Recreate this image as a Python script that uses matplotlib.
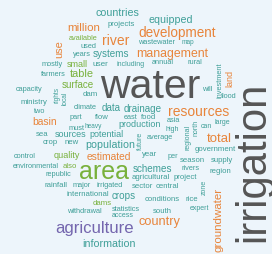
import matplotlib.pyplot as plt

# word frequencies (relative)
WORDS = [
    "water", "irrigation", "area", "agriculture", "development", "resources",
    "river", "total", "country", "management", "million", "groundwater",
    "estimated", "countries", "equipped", "information", "population", "table",
    "use", "basin", "surface", "systems", "quality", "land", "schemes", "crops",
    "data", "drainage", "production", "potential", "sources", "small",
    "projects", "available", "used", "years", "wastewater", "map", "annual",
    "rural", "mostly", "user", "including", "farmers", "capacity", "ministry",
    "two", "dam", "climate", "part", "flow", "east", "food", "must", "heavy",
    "sea", "crop", "new", "control", "environmental", "also", "republic",
    "rainfall", "major", "irrigated", "international", "dams", "withdrawal",
    "statistics", "access", "south", "conditions", "rice", "expert", "sector",
    "central", "agricultural", "project", "rivers", "region", "season",
    "supply", "government", "year", "per", "average", "high", "asia", "can",
    "large", "will", "flood", "investment", "regional", "north", "future",
    "zone", "rights", "local",
]
FREQS = [
    100, 102, 61, 41, 33, 34,
    34, 32, 31, 30, 28, 28,
    25, 26, 26, 26, 26, 27,
    27, 25, 24, 24, 22, 22, 24, 24,
    24, 24, 22, 22, 22, 22,
    19, 18, 18, 18, 18, 16, 18,
    18, 18, 20, 17, 18, 18, 19,
    18, 19, 18, 18, 19, 18, 19, 18, 16,
    19, 19, 19, 18, 18, 19, 18,
    19, 18, 18, 19, 19, 18,
    18, 17, 19, 19, 19, 17, 19,
    19, 19, 19, 18, 19, 19,
    19, 19, 19, 18, 18, 17, 18, 17,
    17, 18, 18, 18, 17, 17, 17,
    17, 16, 16,
]
# colour group of each word
GROUPS = [
    "gray", "gray", "green", "purple", "orange", "orange",
    "orange", "orange", "orange", "orange", "orange", "orange",
    "orange", "teal", "teal", "teal", "teal", "green",
    "orange", "orange", "green", "teal", "green", "orange", "teal", "teal",
    "teal", "teal", "teal", "teal", "teal", "green",
    "teal", "green", "teal", "teal", "teal", "teal", "teal",
    "teal", "teal", "teal", "teal", "teal", "teal", "teal",
    "teal", "teal", "teal", "teal", "teal", "teal", "teal", "teal", "teal",
    "teal", "teal", "teal", "teal", "teal", "green", "teal",
    "teal", "teal", "teal", "teal", "green", "teal",
    "teal", "teal", "teal", "teal", "teal", "teal", "teal",
    "teal", "teal", "teal", "teal", "teal", "teal",
    "teal", "teal", "teal", "teal", "teal", "teal", "teal", "teal",
    "teal", "teal", "teal", "teal", "teal", "teal", "teal",
    "teal", "teal", "teal",
]

COLORS = {
    "gray": "#555555",
    "green": "#78b13c",
    "orange": "#e8843a",
    "teal": "#3f9f98",
    "purple": "#7466ae",
}

# placement of each word in the cloud (pixel grid, x, y, rotation)
LAYOUT = {
    "water": (150, 87, 0), "irrigation": (253, 162, 90), "area": (104, 172, 0),
    "agriculture": (95, 229, 0), "development": (177, 33, 0),
    "resources": (199, 112, 0), "river": (116, 41, 0), "total": (219, 139, 0),
    "country": (159, 222, 0), "management": (172, 54, 0),
    "million": (84, 28, 0), "groundwater": (218, 220, 90),
    "estimated": (109, 157, 0), "countries": (117, 13, 0),
    "equipped": (171, 20, 0), "information": (109, 244, 0),
    "population": (110, 145, 0), "table": (82, 74, 0), "use": (59, 49, 90),
    "basin": (45, 122, 0), "surface": (78, 85, 0), "systems": (111, 54, 0),
    "quality": (67, 156, 0), "land": (230, 78, 90), "schemes": (152, 169, 0),
    "crops": (124, 196, 0), "data": (111, 108, 0), "drainage": (143, 109, 0),
    "production": (140, 125, 0), "potential": (106, 135, 0),
    "sources": (71, 135, 0), "small": (77, 65, 0), "projects": (121, 24, 0),
    "available": (83, 38, 0), "used": (88, 46, 0), "years": (82, 55, 0),
    "wastewater": (157, 43, 0), "map": (188, 43, 0), "annual": (163, 62, 0),
    "rural": (195, 62, 0), "mostly": (52, 65, 0), "user": (100, 65, 0),
    "including": (131, 65, 0), "farmers": (53, 75, 0),
    "capacity": (29, 90, 0), "ministry": (34, 103, 0), "two": (40, 112, 0),
    "dam": (90, 95, 0), "climate": (85, 108, 0), "part": (76, 118, 0),
    "flow": (102, 118, 0), "east": (131, 118, 0), "food": (149, 118, 0),
    "must": (77, 128, 0), "heavy": (93, 127, 0), "sea": (42, 135, 0),
    "crop": (50, 143, 0), "new": (72, 143, 0), "control": (25, 157, 0),
    "environmental": (36, 167, 0), "also": (70, 167, 0),
    "republic": (58, 175, 0), "rainfall": (56, 186, 0), "major": (82, 186, 0),
    "irrigated": (110, 186, 0), "international": (88, 195, 0),
    "dams": (102, 204, 0), "withdrawal": (84, 212, 0),
    "statistics": (126, 210, 0), "access": (123, 216, 0),
    "south": (162, 212, 0), "conditions": (162, 200, 0), "rice": (192, 200, 0),
    "expert": (199, 209, 0), "sector": (142, 187, 0), "central": (167, 187, 0),
    "agricultural": (151, 178, 0), "project": (185, 178, 0),
    "rivers": (191, 169, 0), "region": (220, 172, 0), "season": (192, 161, 0),
    "supply": (222, 161, 0), "government": (215, 150, 0), "year": (150, 155, 0),
    "per": (173, 157, 0), "average": (160, 138, 0), "high": (172, 130, 0),
    "asia": (173, 121, 0), "can": (206, 127, 0), "large": (222, 123, 0),
    "will": (207, 90, 0), "flood": (229, 97, 0), "investment": (220, 80, 90),
    "regional": (188, 137, 90), "north": (196, 128, 90),
    "future": (140, 141, 90), "zone": (204, 187, 90), "rights": (57, 95, 90),
    "local": (65, 98, 90),
}

W, H = 272, 255

fig = plt.figure(figsize=(W / 100, H / 100), dpi=100)
fig.patch.set_facecolor("#edf5fb")
ax = fig.add_axes([0, 0, 1, 1])
ax.set_facecolor("#edf5fb")
ax.set_xlim(0, W)
ax.set_ylim(H, 0)
ax.axis("off")

for word, freq, group in zip(WORDS, FREQS, GROUPS):
    x, y, rot = LAYOUT[word]
    ax.text(
        x, y, word,
        fontsize=freq * 0.295,
        color=COLORS[group],
        rotation=rot,
        ha="center",
        va="center",
        family="Liberation Sans",
    )

fig.savefig("out.png", dpi=100, facecolor=fig.get_facecolor())
